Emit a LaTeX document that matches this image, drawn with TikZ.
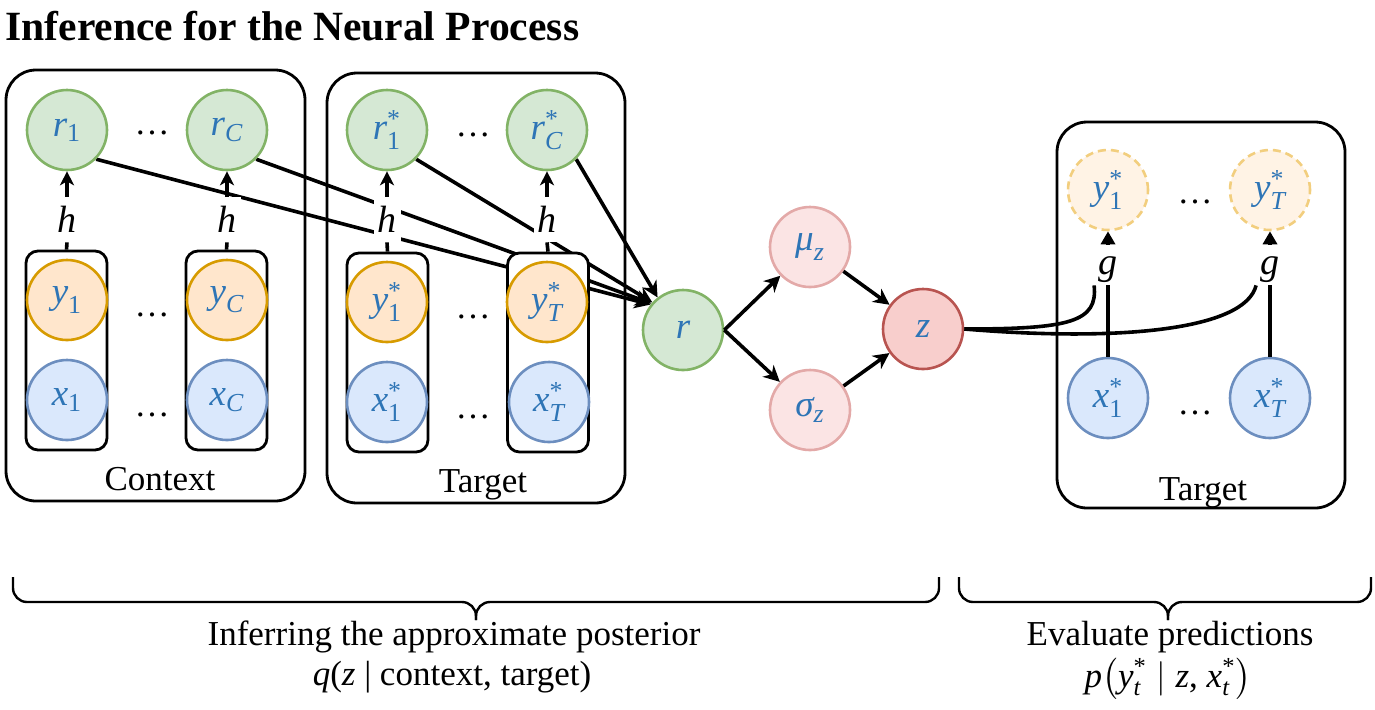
\documentclass[tikz,border=0pt]{standalone}
\usepackage{fontspec}
\usepackage{amsmath}
\setmainfont{LiberationSerif}[Extension=.ttf, UprightFont=*-Regular, BoldFont=*-Bold, ItalicFont=*-Italic, BoldItalicFont=*-BoldItalic]
\usetikzlibrary{arrows.meta}
\pgfdeclarelayer{bg}
\pgfdeclarelayer{mid}
\pgfsetlayers{bg,mid,main}
\definecolor{txtblue}{RGB}{46,117,182}
\definecolor{gfill}{HTML}{D5E8D4}\definecolor{gdraw}{HTML}{82B366}
\definecolor{ofill}{HTML}{FFE6CC}\definecolor{odraw}{HTML}{D79B00}
\definecolor{bfill}{HTML}{DAE8FC}\definecolor{bdraw}{HTML}{6C8EBF}
\definecolor{pfill}{HTML}{FBE4E4}\definecolor{pdraw}{HTML}{E3A9A8}
\definecolor{zfill}{HTML}{F8CECC}\definecolor{zdraw}{HTML}{B85450}
\definecolor{dfill}{HTML}{FFF3E5}\definecolor{ddraw}{HTML}{F2CE7E}
\newcommand{\mv}[1]{\textit{#1}}
\tikzset{
  nd/.style={circle, minimum size=40pt, inner sep=0pt, line width=1.3pt, font=\fontsize{18.5}{20}\selectfont, text=txtblue},
  gn/.style={nd, fill=gfill, draw=gdraw},
  on/.style={nd, fill=ofill, draw=odraw},
  bn/.style={nd, fill=bfill, draw=bdraw},
  pn/.style={nd, fill=pfill, draw=pdraw},
  zn/.style={nd, fill=zfill, draw=zdraw},
  dn/.style={nd, fill=dfill, draw=ddraw, dash pattern=on 4pt off 2.5pt},
  outbox/.style={draw, line width=1.4pt, rounded corners=15pt, inner sep=0pt},
  inbox/.style={draw, fill=white, line width=1.4pt, rounded corners=6pt, minimum width=40.5pt, minimum height=99.5pt, inner sep=0pt},
  lbl/.style={font=\fontsize{17.5}{20}\selectfont, inner sep=0pt},
  fnl/.style={fill=white, inner xsep=2pt, inner ysep=0pt, minimum height=22.5pt, font=\fontsize{19}{20}\selectfont\itshape},
  ell/.style={font=\fontsize{17.5}{20}\selectfont, inner sep=0pt},
  ln/.style={line width=1.8pt},
  arr/.style={line width=1.8pt, -{Stealth[length=8pt,width=8pt,inset=2.5pt]}},
  sarr/.style={line width=1.8pt, -{Stealth[length=7pt,width=7pt,inset=2pt]}},
  tarr/.style={line width=1.8pt, -{Triangle[length=6.5pt,width=7pt]}, shorten <=5pt},
  brc/.style={line width=1.2pt, rounded corners=7pt},
}
\begin{document}
\begin{tikzpicture}[x=0.5pt,y=-0.5pt]
\useasboundingbox (0,0) rectangle (1375,709);
% title
\node[anchor=base west, inner sep=0pt, font=\fontsize{20.8}{24}\selectfont\bfseries] (title) at (5,40) {Inference for the Neural Process};
% outer boxes
\begin{pgfonlayer}{bg}
\node[outbox, minimum width=149.5pt, minimum height=215.5pt] (ctx) at (155.5,285.5) {};
\node[outbox, minimum width=149pt, minimum height=215pt] (tgt) at (476,288) {};
\node[outbox, minimum width=144pt, minimum height=193pt] (rtgt) at (1201,315) {};
\end{pgfonlayer}
\node[lbl, anchor=base] (ctxl) at (160,490) {Context};
\node[lbl, anchor=base] (tgtl) at (483,492) {Target};
\node[lbl, anchor=base] (rtgtl) at (1203,500) {Target};
% context column
\node[inbox] (cb1) at (66.5,350.5) {};
\node[inbox] (cb2) at (226.5,350.5) {};
\node[gn] (r1) at (67,130) {$\mv{r}_{\text{1}}$};
\node[gn] (rC) at (227,130) {$\mv{r}_{\mv{C}}$};
\node[on] (y1) at (67,300) {$\mv{y}_{\text{1}}$};
\node[on] (yC) at (227,300) {$\mv{y}_{\mv{C}}$};
\node[bn] (x1) at (67,400) {$\mv{x}_{\text{1}}$};
\node[bn] (xC) at (227,400) {$\mv{x}_{\mv{C}}$};
\node[fnl] (h1) at (67,219.5) {h};
\node[fnl] (h2) at (227,219.5) {h};
\node[ell] (d1) at (152,133) {…};
\node[ell] (d2) at (152,315) {…};
\node[ell] (d3) at (152,415) {…};
% target column
\node[inbox] (tb1) at (387.5,352.5) {};
\node[inbox] (tb2) at (548,352.5) {};
\node[gn] (r1s) at (387,130) {$\mv{r}^{\text{*}}_{\text{1}}$};
\node[gn] (rCs) at (547,130) {$\mv{r}^{\text{*}}_{\mv{C}}$};
\node[on] (y1s) at (387,302) {$\mv{y}^{\text{*}}_{\text{1}}$};
\node[on] (yTs) at (547,302) {$\mv{y}^{\text{*}}_{\mv{T}}$};
\node[bn] (x1s) at (387,402) {$\mv{x}^{\text{*}}_{\text{1}}$};
\node[bn] (xTs) at (549,402) {$\mv{x}^{\text{*}}_{\mv{T}}$};
\node[fnl] (h3) at (387,219.5) {h};
\node[fnl] (h4) at (547,219.5) {h};
\node[ell] (d4) at (473,135) {…};
\node[ell] (d5) at (473,317) {…};
\node[ell] (d6) at (473,417) {…};
% h arrows
\foreach \h/\b/\r in {h1/cb1/r1, h2/cb2/rC, h3/tb1/r1s, h4/tb2/rCs}{
  \draw[ln] (\b.north) -- (\h.south);
  \draw[sarr] (\h.north) -- (\r.south);
}
% latent path
\node[gn] (r) at (683,330) {$\mv{r}$};
\node[pn] (mu) at (810,247) {$\mv{μ}_{\mv{z}}$};
\node[pn] (sig) at (810,410) {$\mv{σ}_{\mv{z}}$};
\node[zn] (z) at (923,329) {$\mv{z}$};
\draw[arr] (r.east) -- (mu);
\draw[arr] (r.east) -- (sig);
\draw[arr] (mu) -- (z);
\draw[arr] (sig) -- (z);
% right target
\node[dn] (py1) at (1108,190) {$\mv{y}^{\text{*}}_{\text{1}}$};
\node[dn] (pyT) at (1270,190) {$\mv{y}^{\text{*}}_{\mv{T}}$};
\node[bn] (px1) at (1108,398) {$\mv{x}^{\text{*}}_{\text{1}}$};
\node[bn] (pxT) at (1270,398) {$\mv{x}^{\text{*}}_{\mv{T}}$};
\node[fnl, minimum height=0pt, inner ysep=1pt] (g1) at (1108,270) {g};
\node[fnl, minimum height=0pt, inner ysep=1pt] (g2) at (1270,270) {g};
\node[ell] (d7) at (1195,202) {…};
\node[ell] (d8) at (1195,413) {…};
\draw[ln] (px1.north) -- (g1.south);
\draw[ln] (pxT.north) -- (g2.south);
\draw[tarr] (g1.north) -- (py1.south);
\draw[tarr] (g2.north) -- (pyT.south);
\draw[ln] (z.east) .. controls (1070,329) and (1098,322) .. (g1.south west);
\draw[ln] (z.east) .. controls (1120,342) and (1245,330) .. (g2.south west);
% connectors into r (behind inner boxes and h labels)
\begin{pgfonlayer}{mid}
\draw[arr] (r1.-45) -- (r.142);
\draw[arr] (rC.-45) -- (r.140);
\draw[arr] (r1s.-45) -- (r.138);
\draw[arr] (rCs.-45) -- (r.128);
\end{pgfonlayer}
% braces
\draw[brc] (13,577) -- (13,602) -- (476,602) -- (476,620);
\draw[brc] (939,577) -- (939,602) -- (476,602) -- (476,620);
\draw[brc] (959,577) -- (959,602) -- (1168,602) -- (1168,620);
\draw[brc] (1371,577) -- (1371,602) -- (1168,602) -- (1168,620);
\node[lbl, anchor=base] (inf) at (454,645) {Inferring the approximate posterior};
\node[lbl, anchor=base] (qz) at (452,685) {\mv{q}(\mv{z} | context, target)};
\node[lbl, anchor=base] (ev) at (1170,645) {Evaluate predictions};
\node[lbl, anchor=base] (pz) at (1168,687) {$\mv{p}\big(\mv{y}^{\text{*}}_{\mv{t}}\mid\mv{z}\text{, }\mv{x}^{\text{*}}_{\mv{t}}\big)$};
\end{tikzpicture}
\end{document}
